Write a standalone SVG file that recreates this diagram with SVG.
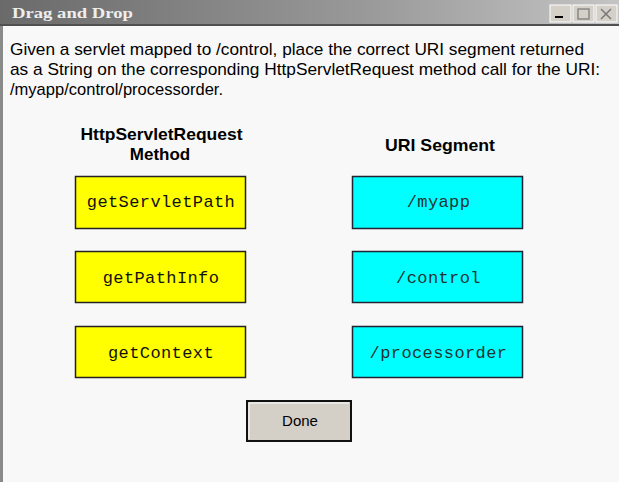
<svg xmlns="http://www.w3.org/2000/svg" width="619" height="482" viewBox="0 0 619 482">
<defs>
<linearGradient id="tb" x1="0" y1="0" x2="1" y2="0">
<stop offset="0" stop-color="#6a6a6a"/>
<stop offset="0.6" stop-color="#9a9a9a"/>
<stop offset="1" stop-color="#c4c4c4"/>
</linearGradient>
<style>
.body{font-family:"Liberation Sans",Arial,sans-serif;font-size:17px;fill:#000}
.hdr{font-family:"Liberation Sans",Arial,sans-serif;font-size:17px;font-weight:bold;fill:#000;text-anchor:middle}
.box text{font-family:"Liberation Mono","Courier New",monospace;font-size:17px;letter-spacing:0.4px;fill:#111;text-anchor:middle}
.u text{fill:#233}
.m rect{fill:#ffff00;stroke:#222;stroke-width:1.5}
.u rect{fill:#00ffff;stroke:#223;stroke-width:1.5}
.wb{fill:#d4d0c8;stroke:#fff;stroke-width:1}
</style>
</defs>
<rect x="0" y="0" width="619" height="482" fill="#f8f8f8"/>
<rect x="0" y="0" width="3" height="482" fill="#8a8a8a"/>
<g id="titlebar">
<rect x="0" y="0" width="619" height="25" fill="url(#tb)"/>
<rect x="0" y="24" width="619" height="2" fill="#505050"/>
<text x="12" y="18" font-family="'Liberation Serif','Times New Roman',serif" font-size="15" font-weight="bold" fill="#eeeeee" textLength="121" lengthAdjust="spacingAndGlyphs">Drag and Drop</text>
<rect class="wb" x="550" y="5" width="21" height="17"/>
<rect x="555" y="16" width="8" height="2" fill="#000"/>
<rect class="wb" x="573" y="5" width="21" height="17"/>
<rect x="578" y="9" width="11" height="10" fill="none" stroke="#777" stroke-width="1.2"/>
<rect class="wb" x="596" y="5" width="21" height="17"/>
<path d="M601 9 L611 19 M611 9 L601 19" stroke="#777" stroke-width="1.5"/>
</g>
<g id="instructions">
<text class="body" x="10" y="55" textLength="574" lengthAdjust="spacingAndGlyphs">Given a servlet mapped to /control, place the correct URI segment returned</text>
<text class="body" x="10" y="75" textLength="590" lengthAdjust="spacingAndGlyphs">as a String on the corresponding HttpServletRequest method call for the URI:</text>
<text class="body" x="10" y="95" textLength="213" lengthAdjust="spacingAndGlyphs">/myapp/control/processorder.</text>
</g>
<g id="header-method">
<text class="hdr" x="161.5" y="140" textLength="162" lengthAdjust="spacingAndGlyphs">HttpServletRequest</text>
<text class="hdr" x="160" y="160">Method</text>
</g>
<g id="header-uri">
<text class="hdr" x="440" y="150.5" textLength="110" lengthAdjust="spacingAndGlyphs">URI Segment</text>
</g>
<g id="m-getServletPath" class="box m"><rect x="75.5" y="176.5" width="170" height="52"/><text x="161" y="207">getServletPath</text></g>
<g id="m-getPathInfo" class="box m"><rect x="75.5" y="251.5" width="170" height="51"/><text x="161" y="282.5">getPathInfo</text></g>
<g id="m-getContext" class="box m"><rect x="75.5" y="326.5" width="170" height="51"/><text x="161" y="357.5">getContext</text></g>
<g id="u-myapp" class="box u"><rect x="352.5" y="176.5" width="170" height="52"/><text x="438.5" y="207">/myapp</text></g>
<g id="u-control" class="box u"><rect x="352.5" y="251.5" width="170" height="51"/><text x="438.5" y="282.5">/control</text></g>
<g id="u-processorder" class="box u"><rect x="352.5" y="326.5" width="170" height="51"/><text x="438.5" y="357.5">/processorder</text></g>
<g id="connectors"></g>
<g id="done">
<rect x="247" y="401" width="104" height="40" fill="#d4d0c8" stroke="#111" stroke-width="2"/>
<path d="M249 439 V403 H349" fill="none" stroke="#fff" stroke-width="1"/>
<text x="300" y="426" font-family="'Liberation Sans',Arial,sans-serif" font-size="15" fill="#000" text-anchor="middle">Done</text>
</g>
</svg>
